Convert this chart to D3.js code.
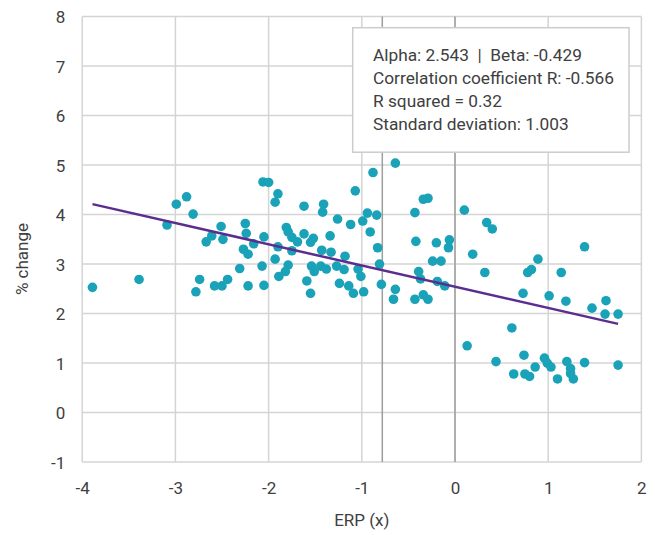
<!DOCTYPE html>
<html>
<head>
<meta charset="utf-8">
<script src="https://cdn.jsdelivr.net/npm/d3@7"></script>
<style>
  html, body { margin: 0; padding: 0; background: #ffffff; }
  svg { display: block; font-family: Roboto, "Noto Sans", sans-serif; }
</style>
</head>
<body>
<svg id="chart" width="655" height="535"></svg>
<script>
// ---- Data ----
const erpX = [
  -3.89, -3.39, -3.09, -2.99, -2.88, -2.81, -2.74, -2.78, -2.67, -2.61,
  -2.51, -2.49, -2.58, -2.50, -2.44, -2.31, -2.25, -2.24, -2.27, -2.22,
  -2.22, -2.16, -2.07, -2.06, -2.00, -1.90, -1.93, -2.05, -2.05, -1.62,
  -1.41, -1.42, -1.81, -1.79, -1.75, -1.69, -1.90, -1.75, -1.93, -1.79,
  -1.82, -1.89, -1.62, -1.52, -1.55, -1.34, -1.43, -1.33, -1.18, -1.54,
  -1.51, -1.44, -1.38, -1.27, -1.19, -1.59, -1.55, -1.24, -1.14, -1.09,
  -1.04, -1.01, -0.98, -1.26, -1.12, -1.07, -0.88, -0.64, -0.99, -0.94,
  -0.84, -0.91, -0.83, -0.81, -0.79, -0.64, -0.66, -0.34, -0.29, -0.43,
  -0.42, -0.20, -0.06, -0.07, -0.24, -0.15, -0.39, -0.37, -0.19, -0.11,
  -0.43, -0.34, -0.29, 0.10, 0.34, 0.40, 0.19, 0.32, 0.13, 0.44,
  0.61, 0.63, 0.74, 0.75, 0.80, 0.73, 0.78, 0.82, 0.89, 1.01,
  0.86, 0.96, 0.99, 1.03, 1.10, 1.14, 1.19, 1.20, 1.24, 1.24,
  1.27, 1.39, 1.39, 1.47, 1.62, 1.61, 1.75, 1.75
];
const changeY = [
  2.53, 2.69, 3.79, 4.21, 4.36, 4.01, 2.69, 2.44, 3.45, 3.57,
  3.76, 3.50, 2.56, 2.56, 2.69, 2.91, 3.82, 3.62, 3.30, 3.20,
  2.56, 3.41, 2.96, 4.66, 4.65, 4.42, 4.25, 3.55, 2.57, 4.17,
  4.21, 4.05, 3.74, 3.65, 3.54, 3.45, 3.35, 3.27, 3.10, 2.98,
  2.85, 2.75, 3.61, 3.52, 3.44, 3.57, 3.28, 3.24, 3.16, 2.96,
  2.85, 2.96, 2.90, 2.96, 2.89, 2.66, 2.41, 2.61, 2.56, 2.41,
  2.90, 2.75, 2.44, 3.91, 3.80, 4.48, 4.85, 5.04, 3.87, 4.03,
  3.99, 3.65, 3.33, 3.00, 2.59, 2.49, 2.29, 4.31, 4.33, 4.04,
  3.46, 3.43, 3.49, 3.33, 3.06, 3.06, 2.85, 2.70, 2.65, 2.56,
  2.29, 2.38, 2.29, 4.09, 3.84, 3.71, 3.20, 2.83, 1.35, 1.03,
  1.71, 0.78, 1.16, 0.78, 0.73, 2.41, 2.83, 2.89, 3.10, 2.36,
  0.92, 1.10, 1.00, 0.92, 0.68, 2.83, 2.25, 1.03, 0.89, 0.79,
  0.68, 1.01, 3.35, 2.11, 2.26, 1.99, 1.99, 0.96
];
const xTicks = [-4, -3, -2, -1, 0, 1, 2];
const yTicks = [-1, 0, 1, 2, 3, 4, 5, 6, 7, 8];
const referenceLines = [-0.78, 0];
const alpha = 2.543;
const beta = -0.429;
const statsLines = [
  "Alpha: 2.543  |  Beta: -0.429",
  "Correlation coefficient R: -0.566",
  "R squared = 0.32",
  "Standard deviation: 1.003"
];
const xTitle = "ERP (x)";
const yTitle = "% change";

// ---- Layout ----
const svg = d3.select("#chart");
const plot = { left: 82.2, right: 641.4, top: 16.6, bottom: 462.1 };
const x = d3.scaleLinear().domain([-4, 2]).range([plot.left, plot.right]);
const y = d3.scaleLinear().domain([-1, 8]).range([plot.bottom, plot.top]);

const textColor = "#404040";
const gridColor = "#d4d4d4";
const fmt = d => String(d);

// Gridlines
svg.append("g").selectAll("line").data(xTicks).join("line")
  .attr("x1", d => x(d)).attr("x2", d => x(d))
  .attr("y1", plot.top).attr("y2", plot.bottom)
  .attr("stroke", gridColor).attr("stroke-width", 1.5);
svg.append("g").selectAll("line").data(yTicks).join("line")
  .attr("x1", plot.left).attr("x2", plot.right)
  .attr("y1", d => y(d)).attr("y2", d => y(d))
  .attr("stroke", gridColor).attr("stroke-width", 1.5);

// Darker reference lines
svg.append("g").selectAll("line").data(referenceLines).join("line")
  .attr("x1", d => x(d)).attr("x2", d => x(d))
  .attr("y1", plot.top).attr("y2", plot.bottom)
  .attr("stroke", "#9e9e9e").attr("stroke-width", 1.5);

// Axes (labels only)
const xAxis = d3.axisBottom(x).tickValues(xTicks).tickSize(0).tickPadding(0).tickFormat(fmt);
const gx = svg.append("g").attr("transform", `translate(0,${plot.bottom})`).call(xAxis);
gx.select(".domain").remove();
gx.selectAll("text").attr("y", 32).attr("dy", 0)
  .attr("font-size", 17).attr("fill", textColor).attr("font-family", "Roboto");

const yAxis = d3.axisLeft(y).tickValues(yTicks).tickSize(0).tickPadding(0).tickFormat(fmt);
const gy = svg.append("g").attr("transform", `translate(${plot.left},0)`).call(yAxis);
gy.select(".domain").remove();
gy.selectAll("text").attr("x", -17).attr("dy", "0.36em")
  .attr("font-size", 17).attr("fill", textColor).attr("font-family", "Roboto");

// Points
const pts = erpX.map((d, i) => ({ x: d, y: changeY[i] }));
svg.append("g").selectAll("circle").data(pts).join("circle")
  .attr("cx", d => x(d.x)).attr("cy", d => y(d.y)).attr("r", 4.8)
  .attr("fill", "#19a2b8");

// Regression line
const xExt = d3.extent(erpX);
const regData = xExt.map(v => ({ x: v, y: alpha + beta * v }));
svg.append("path").datum(regData)
  .attr("d", d3.line().x(d => x(d.x)).y(d => y(d.y)))
  .attr("fill", "none").attr("stroke", "#5b2d8e").attr("stroke-width", 2.5);

// Stats box
const box = svg.append("g");
box.append("rect")
  .attr("x", 352.7).attr("y", 27.7).attr("width", 276.3).attr("height", 124.5)
  .attr("fill", "#ffffff").attr("stroke", "#cccccc").attr("stroke-width", 1.5);
box.selectAll("text").data(statsLines).join("text")
  .attr("x", 373).attr("y", (d, i) => 60.5 + i * 23.3)
  .attr("font-size", 17.3).attr("fill", textColor)
  .attr("xml:space", "preserve").style("white-space", "pre")
  .text(d => d);

// Axis titles
svg.append("text").attr("x", (plot.left + plot.right) / 2).attr("y", 526)
  .attr("text-anchor", "middle").attr("font-size", 17).attr("fill", textColor)
  .text(xTitle);
svg.append("text").attr("transform", "translate(28,259) rotate(-90)")
  .attr("text-anchor", "middle").attr("font-size", 17).attr("fill", textColor)
  .text(yTitle);
</script>
</body>
</html>
